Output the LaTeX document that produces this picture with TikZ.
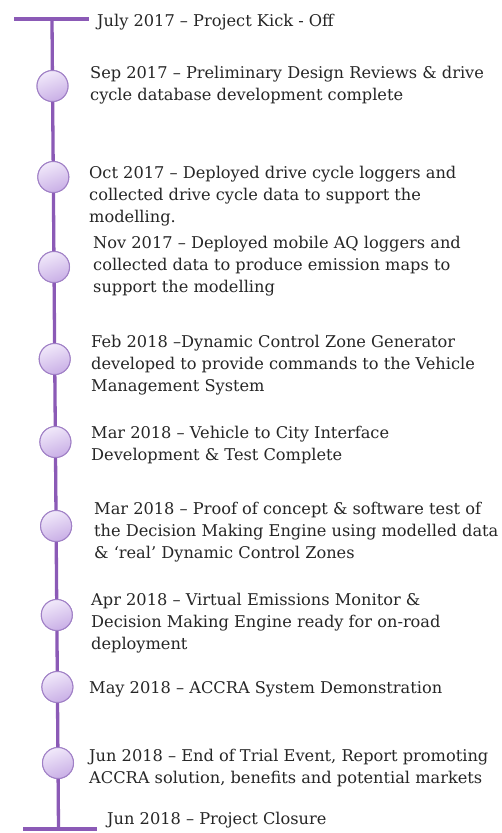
\documentclass[tikz,border=0pt]{standalone}
\usepackage{fontspec}
\setmainfont{DejaVu Serif}
\definecolor{tlpurple}{HTML}{8B5AB6}
\definecolor{cirborder}{HTML}{A080C6}
\definecolor{cirlight}{HTML}{F1E9FA}
\definecolor{cirdark}{HTML}{C9AFE6}
\definecolor{txt}{HTML}{262626}
\tikzset{
  tlline/.style={draw=tlpurple, line width=3.3pt},
  ms/.style={circle, minimum size=31pt, inner sep=0pt, draw=cirborder, line width=1pt,
    top color=cirlight, bottom color=cirdark, shading angle=20},
  lbl/.style={anchor=north west, inner sep=0pt, align=left, text=txt,
    font=\fontsize{16.2}{22}\selectfont},
}
\begin{document}
\begin{tikzpicture}[x=1pt,y=-1pt]
\useasboundingbox (0,0) rectangle (501,833);
\fill[white] (0,0) rectangle (501,833);
% timeline ends
\coordinate (t) at (52,19);
\coordinate (tl) at (14,19);
\coordinate (tr) at (89,19);
\coordinate (b) at (58.5,829);
\coordinate (bl) at (23,829);
\coordinate (br) at (97,829);
% milestone circles
\node[ms] (c1) at (52.5,86) {};
\node[ms] (c2) at (53.3,177) {};
\node[ms] (c3) at (54.0,267) {};
\node[ms] (c4) at (54.7,359) {};
\node[ms] (c5) at (55.4,442) {};
\node[ms] (c6) at (56.1,526) {};
\node[ms] (c7) at (56.8,615) {};
\node[ms] (c8) at (57.4,687) {};
\node[ms] (c9) at (58.0,763) {};
% lines
\draw[tlline] (tl) -- (tr);
\draw[tlline] (bl) -- (br);
\draw[tlline] (t) -- (c1.center) -- (c2.center) -- (c3.center) -- (c4.center) -- (c5.center) -- (c6.center) -- (c7.center) -- (c8.center) -- (c9.center) -- (b);
\foreach \c in {c1,c2,c3,c4,c5,c6,c7,c8,c9} \node[ms] at (\c) {};
% labels
\node[lbl] (l0) at (97,10.5) {\strut July 2017 – Project Kick - Off};
\node[lbl] (l1) at (90,62.5) {\strut Sep 2017 – Preliminary Design Reviews \& drive\\cycle database development complete};
\node[lbl] (l2) at (89,162.5) {\strut Oct 2017 – Deployed drive cycle loggers and\\collected drive cycle data to support the\\modelling.};
\node[lbl] (l3) at (93,232.5) {\strut Nov 2017 – Deployed mobile AQ loggers and\\collected data to produce emission maps to\\support the modelling};
\node[lbl] (l4) at (91,331.5) {\strut Feb 2018 –Dynamic Control Zone Generator\\developed to provide commands to the Vehicle\\Management System};
\node[lbl] (l5) at (91,422.5) {\strut Mar 2018 – Vehicle to City Interface\\Development \& Test Complete};
\node[lbl] (l6) at (94,498.5) {\strut Mar 2018 – Proof of concept \& software test of\\the Decision Making Engine using modelled data\\\& ‘real’ Dynamic Control Zones};
\node[lbl] (l7) at (91,589.5) {\strut Apr 2018 – Virtual Emissions Monitor \&\\Decision Making Engine ready for on-road\\deployment};
\node[lbl] (l8) at (89,677.5) {\strut May 2018 – ACCRA System Demonstration};
\node[lbl] (l9) at (89,745.5) {\strut Jun 2018 – End of Trial Event, Report promoting\\ACCRA solution, benefits and potential markets};
\node[lbl] (l10) at (107,808.5) {\strut Jun 2018 – Project Closure};
\end{tikzpicture}
\end{document}
